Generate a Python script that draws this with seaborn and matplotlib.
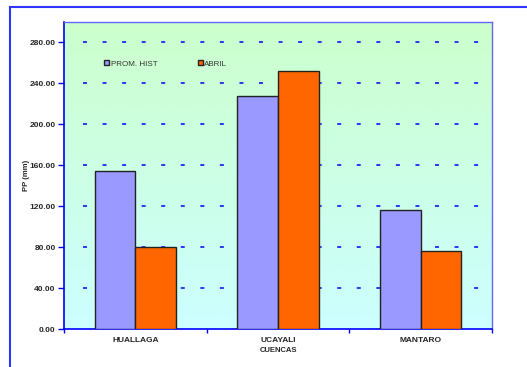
import matplotlib
matplotlib.use('Agg')
import matplotlib.pyplot as plt
import seaborn as sns
import pandas as pd
import numpy as np
from matplotlib.colors import LinearSegmentedColormap
from matplotlib.patches import Rectangle

# Datos
cuencas = ['HUALLAGA', 'UCAYALI', 'MANTARO']
series = ['PROM. HIST', 'ABRIL']
prom_hist = [154.0, 227.5, 116.0]
abril = [80.5, 252.5, 76.5]
yticks = [0, 40, 80, 120, 160, 200, 240, 280]

df = pd.DataFrame({
    'cuenca': cuencas * 2,
    'serie': [series[0]] * 3 + [series[1]] * 3,
    'pp': prom_hist + abril,
})

sns.set_style('white')
plt.rcParams['font.family'] = ['Liberation Sans', 'DejaVu Sans']

fig = plt.figure(figsize=(5.27, 3.67), dpi=100)
ax = fig.add_axes([64 / 527, 1 - 329 / 367, 428 / 527, 307 / 367])

# Marco exterior azul
fig.patches.append(Rectangle((10 / 527, -0.1), 1.2, 1 - 7 / 367 + 0.1, transform=fig.transFigure,
                             fill=False, edgecolor='#3333FF', linewidth=1.5))

# Fondo degradado verde -> celeste
cmap = LinearSegmentedColormap.from_list('fondo', ['#CCFFFF', '#CCFFCC'])
ax.imshow(np.linspace(0, 1, 256).reshape(-1, 1)[::-1], cmap=cmap, aspect='auto',
          extent=[0, 1, 0, 1], transform=ax.transAxes, zorder=0)

sns.barplot(data=df, x='cuenca', y='pp', hue='serie', palette=['#9999FF', '#FF6600'],
            width=0.57, edgecolor='#222222', linewidth=1.0, saturation=1, ax=ax, zorder=3)

ax.set_xlim(-0.5, 2.5)
ax.set_ylim(0, 300)

# Líneas de división discontinuas (el patrón se escala con el grosor)
for y in yticks[1:]:
    ax.axhline(y, xmin=0.045, xmax=0.975, color='#0000FF', linewidth=1.1,
               linestyle=(0, (2.6, 10.2)), zorder=1)

ax.set_yticks(yticks)
ax.set_yticklabels([f'{v:.2f}' for v in yticks], fontsize=6, fontweight='bold')
ax.set_xticks(range(3))
ax.set_xticklabels(cuencas, fontsize=6, fontweight='bold')
ax.set_xticks([-0.5, 0.5, 1.5, 2.5], minor=True)
ax.tick_params(axis='y', which='major', direction='out', length=4, width=1, color='#0000FF', pad=2, left=True)
ax.tick_params(axis='x', which='major', length=0, pad=6)
ax.tick_params(axis='x', which='minor', direction='out', length=3, width=1, color='#0000FF', bottom=True)

ax.set_ylabel('PP (mm)', fontsize=5.5, fontweight='bold', labelpad=0)
ax.set_xlabel('CUENCAS', fontsize=5.5, fontweight='bold', labelpad=2)

for lado in ['left', 'bottom']:
    ax.spines[lado].set_color('#0000FF')
    ax.spines[lado].set_linewidth(1.2)
for lado in ['top', 'right']:
    ax.spines[lado].set_color('#6666FF')
    ax.spines[lado].set_linewidth(1.0)
    ax.spines[lado].set_visible(True)

leg = ax.legend(loc='center left', bbox_to_anchor=(0.094, 0.863), ncol=2, frameon=False,
                fontsize=5.8, handlelength=0.6, handleheight=0.6, handletextpad=0.2,
                columnspacing=5.0, borderaxespad=0, borderpad=0)
for h in leg.legend_handles:
    h.set_edgecolor('#222222')
    h.set_linewidth(1.0)
for t in leg.get_texts():
    t.set_color('#333333')

fig.savefig('out.png', dpi=100)
